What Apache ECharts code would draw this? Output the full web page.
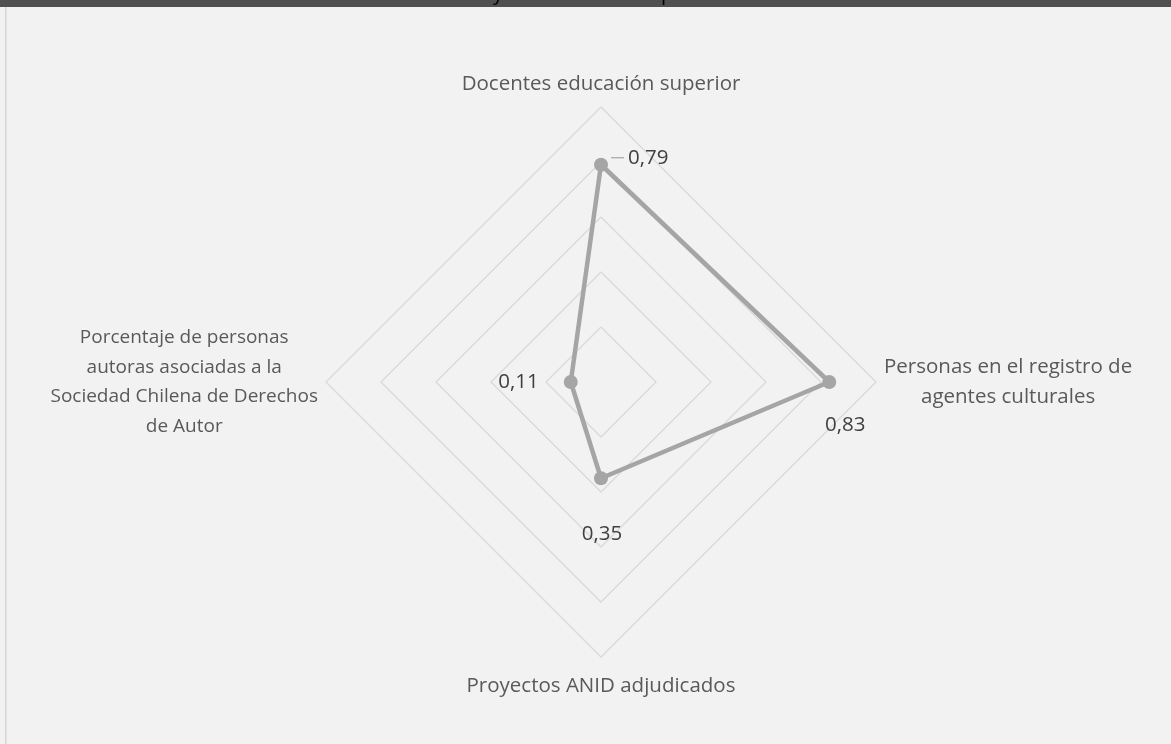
<!DOCTYPE html>
<html>
<head>
<meta charset="utf-8">
<script src="https://cdn.jsdelivr.net/npm/echarts@6/dist/echarts.min.js"></script>
<style>
html,body{margin:0;padding:0;background:#f2f2f2;}
#chart{width:1171px;height:744px;}
</style>
</head>
<body>
<div id="chart"></div>
<script>
// indicadores en el orden de ECharts: arriba, izquierda, abajo, derecha
const indicadores = [
  'Docentes educación superior',
  'Porcentaje de personas\nautoras asociadas a la\nSociedad Chilena de Derechos\nde Autor',
  'Proyectos ANID adjudicados',
  'Personas en el registro de\nagentes culturales'
]
const valores = [0.79, 0.11, 0.35, 0.83]
const maximo = 1
const titulo = 'Creación y conocimiento especializado'

// posición de cada etiqueta de valor
const etiquetas = [
  {position:'right', offset:[4,-7], leader:true},
  {position:'left', offset:[-26,0]},
  {position:'bottom', offset:[1,39]},
  {position:'bottom', offset:[16,27]}
]
// estilo del nombre de cada indicador
const estiloNombre = ['a', 'b', 'c', 'a']

const fmt = v => v.toFixed(2).replace('.', ',')

let chart = echarts.init(document.getElementById('chart'))

let series = [{
  name:'principal',
  value: valores,
  symbol:'circle',
  symbolSize:14,
  lineStyle:{color:'#a5a5a5', width:4.5},
  itemStyle:{color:'#a5a5a5'},
  label:{show:false}
}]

// un elemento invisible por etiqueta, para poder colocar cada una por separado
etiquetas.forEach((e, k) => {
  series.push({
    name:'etiqueta' + k,
    value: valores,
    symbol:'circle',
    symbolSize:2,
    lineStyle:{opacity:0},
    itemStyle:{color:'rgba(0,0,0,0)'},
    z:3,
    label:{
      show:true,
      position:e.position,
      offset:e.offset,
      distance:5,
      fontFamily:'Open Sans',
      fontSize:20.5,
      color:'#404040',
      formatter:(p) => {
        if (p.value !== valores[k]) return ''
        return e.leader ? '{l|}{v|' + fmt(p.value) + '}' : fmt(p.value)
      },
      rich:{
        l:{width:13, height:1.2, backgroundColor:'#a5a5a5'},
        v:{fontFamily:'Open Sans', fontSize:20.5, color:'#404040', padding:[0,0,0,4]}
      }
    }
  })
})

let options = {
  backgroundColor:'#f2f2f2',
  animation:false,
  title:{
    text:titulo,
    left:'center',
    top:-21,
    textStyle:{fontFamily:'Open Sans', fontSize:20, fontWeight:'normal', color:'#000'},
    z:20
  },
  graphic:[
    {type:'rect', shape:{x:0, y:0, width:1171, height:7}, style:{fill:'#505050'}, z:10},
    {type:'rect', shape:{x:5, y:7, width:1.5, height:737}, style:{fill:'#d6d6d6'}, z:10}
  ],
  radar:{
    center:[601, 382],
    radius:275,
    startAngle:90,
    splitNumber:5,
    shape:'polygon',
    nameGap:8,
    axisName:{
      fontFamily:'Open Sans',
      fontSize:20.5,
      color:'#595959',
      formatter:(n) => {
        let s = estiloNombre[indicadores.indexOf(n)] || 'a'
        return n.split('\n').map(t => '{' + s + '|' + t + '}').join('\n')
      },
      rich:{
        a:{fontFamily:'Open Sans', fontSize:20.5, color:'#595959', align:'center', lineHeight:29.5},
        b:{fontFamily:'Open Sans', fontSize:19, color:'#595959', align:'center', lineHeight:29.5},
        c:{fontFamily:'Open Sans', fontSize:20.5, color:'#595959', align:'center', lineHeight:29.5, padding:[12,0,0,0]}
      }
    },
    indicator: indicadores.map(n => ({name:n, max:maximo, min:0})),
    axisLine:{show:false},
    axisTick:{show:false},
    axisLabel:{show:false},
    splitArea:{show:false},
    splitLine:{lineStyle:{color:'#d9d9d9', width:1.3}}
  },
  series:[{
    type:'radar',
    data:series
  }]
}
chart.setOption(options)
</script>
</body>
</html>
